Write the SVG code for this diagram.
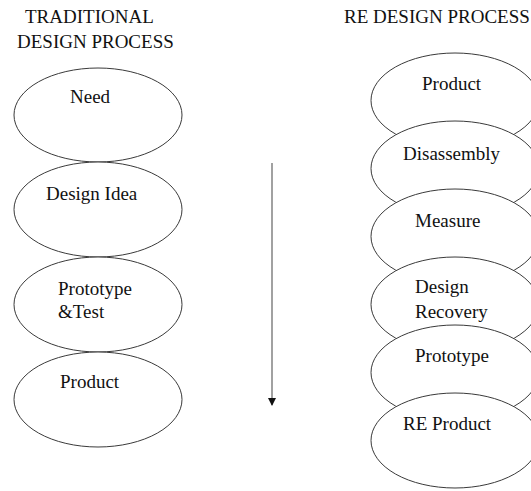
<svg xmlns="http://www.w3.org/2000/svg" width="531" height="491" viewBox="0 0 531 491">
  <style>
    .shape { fill: #ffffff; stroke: #3a3a3a; stroke-width: 1; }
    .label { font-family: "Liberation Serif", "Times New Roman", serif; font-size: 19px; fill: #111111; }
    .flow { stroke: #8a8a8a; stroke-width: 1.6; fill: none; }
  </style>
  <defs>
    <marker id="arrowhead" markerWidth="8" markerHeight="8" refX="7" refY="4" orient="auto" markerUnits="userSpaceOnUse">
      <path d="M0,0 L8,4 L0,8 Z" fill="#111111"/>
    </marker>
  </defs>

  <rect width="531" height="491" fill="#ffffff"/>

  <!-- column headings -->
  <g id="heading-traditional">
    <text class="label" x="25" y="23">TRADITIONAL</text>
    <text class="label" x="17" y="48">DESIGN PROCESS</text>
  </g>
  <g id="heading-re">
    <text class="label" x="344" y="23">RE DESIGN PROCESS</text>
  </g>

  <!-- traditional design process -->
  <g id="need">
    <ellipse class="shape" cx="98" cy="115" rx="84" ry="47"/>
    <text class="label" x="70" y="103">Need</text>
  </g>
  <g id="design-idea">
    <ellipse class="shape" cx="98" cy="209.5" rx="84" ry="47.5"/>
    <text class="label" x="46" y="200">Design Idea</text>
  </g>
  <g id="prototype-test">
    <ellipse class="shape" cx="98" cy="304.5" rx="84" ry="47.5"/>
    <text class="label" x="58" y="295">Prototype</text>
    <text class="label" x="58" y="318">&amp;Test</text>
  </g>
  <g id="product">
    <ellipse class="shape" cx="98" cy="399.5" rx="84" ry="47.5"/>
    <text class="label" x="60" y="388">Product</text>
  </g>

  <!-- direction of flow -->
  <g id="connectors">
    <line class="flow" x1="272" y1="163" x2="272" y2="405" marker-end="url(#arrowhead)"/>
  </g>

  <!-- reverse engineering design process -->
  <g id="re-product-start">
    <ellipse class="shape" cx="455" cy="100.5" rx="84" ry="47.5"/>
    <text class="label" x="422" y="90">Product</text>
  </g>
  <g id="disassembly">
    <ellipse class="shape" cx="455" cy="168.5" rx="84" ry="47.5"/>
    <text class="label" x="403" y="160">Disassembly</text>
  </g>
  <g id="measure">
    <ellipse class="shape" cx="455" cy="236.5" rx="84" ry="47.5"/>
    <text class="label" x="415" y="227">Measure</text>
  </g>
  <g id="design-recovery">
    <ellipse class="shape" cx="455" cy="304.5" rx="84" ry="47.5"/>
    <text class="label" x="415" y="293">Design</text>
    <text class="label" x="415" y="318">Recovery</text>
  </g>
  <g id="prototype">
    <ellipse class="shape" cx="455" cy="372.5" rx="84" ry="47.5"/>
    <text class="label" x="415" y="362">Prototype</text>
  </g>
  <g id="re-product">
    <ellipse class="shape" cx="455" cy="440.5" rx="84" ry="47.5"/>
    <text class="label" x="403" y="430">RE Product</text>
  </g>
</svg>
